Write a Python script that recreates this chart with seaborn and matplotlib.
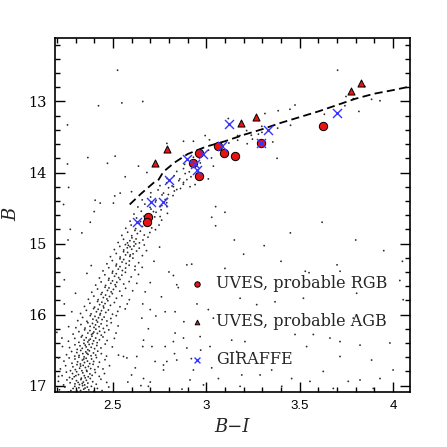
import matplotlib
matplotlib.use("Agg")
import matplotlib.pyplot as plt
from matplotlib.ticker import MultipleLocator, FormatStrFormatter
import seaborn as sns
import pandas as pd

# ---------------- data ----------------
# UVES probable RGB stars
rgb_bi = [3.625, 3.293, 3.063, 3.095, 3.156, 2.962, 2.928, 2.963, 2.689, 2.684]
rgb_b = [13.34, 13.59, 13.62, 13.72, 13.77, 13.72, 13.87, 14.05, 14.62, 14.70]

# UVES probable AGB stars
agb_bi = [3.826, 3.775, 3.265, 3.184, 2.790, 2.728]
agb_b = [12.74, 12.85, 13.22, 13.305, 13.667, 13.87]

# GIRAFFE stars
gir_bi = [3.698, 3.329, 3.122, 3.293, 3.083, 2.985, 2.896, 2.937, 2.949, 2.803, 2.705, 2.767, 2.628]
gir_b = [13.164, 13.408, 13.315, 13.59, 13.62, 13.737, 13.81, 13.878, 13.962, 14.10, 14.418, 14.418, 14.70]

# fiducial (dashed) line
fid_bi = [2.59, 2.65, 2.72, 2.745, 2.77, 2.83, 2.90, 3.00, 3.10, 3.20, 3.30, 3.40, 3.50, 3.60, 3.70, 3.80, 3.90, 4.00, 4.09]
fid_b = [14.45, 14.30, 14.14, 14.10, 13.99, 13.86, 13.74, 13.635, 13.56, 13.47, 13.39, 13.30, 13.22, 13.14, 13.05, 12.96, 12.89, 12.84, 12.79]

# cluster photometry (dense RGB sequence)
cluster_stars = [
    (2.214,17.06),(2.243,17.02),(2.262,17.09),(2.287,17.04),(2.296,17.01),(2.309,17.08),(2.318,17.03),(2.327,17.07),(2.338,17.00),(2.344,17.05),
    (2.356,17.09),(2.363,17.02),(2.371,17.06),(2.385,17.01),(2.398,17.08),(2.417,17.04),(2.442,17.07),(2.478,17.02),(2.275,17.07),(2.351,17.035),
    (2.208,16.94),(2.236,16.99),(2.254,16.92),(2.271,16.96),(2.283,16.905),(2.297,16.975),(2.305,16.93),(2.321,16.985),(2.329,16.915),(2.342,16.95),
    (2.349,16.99),(2.358,16.925),(2.366,16.965),(2.379,16.90),(2.392,16.945),(2.411,16.98),(2.436,16.91),(2.467,16.955),(2.314,16.955),(2.336,16.97),
    (2.228,16.86),(2.251,16.81),(2.268,16.885),(2.284,16.83),(2.293,16.875),(2.306,16.805),(2.316,16.845),(2.331,16.895),(2.339,16.82),(2.347,16.86),
    (2.361,16.80),(2.368,16.875),(2.377,16.835),(2.389,16.855),(2.406,16.815),(2.427,16.87),(2.455,16.83),(2.302,16.86),(2.352,16.89),
    (2.219,16.765),(2.247,16.72),(2.273,16.79),(2.286,16.735),(2.299,16.775),(2.308,16.705),(2.322,16.755),(2.334,16.79),(2.341,16.715),(2.353,16.745),
    (2.359,16.785),(2.369,16.73),(2.381,16.76),(2.394,16.70),(2.403,16.775),(2.421,16.735),(2.447,16.765),(2.482,16.72),(2.327,16.725),
    (2.238,16.655),(2.266,16.61),(2.281,16.685),(2.297,16.625),(2.311,16.665),(2.318,16.60),(2.326,16.695),(2.337,16.64),(2.348,16.675),(2.357,16.615),
    (2.364,16.655),(2.376,16.69),(2.386,16.625),(2.397,16.66),(2.412,16.605),(2.428,16.67),(2.458,16.635),(2.344,16.625),
    (2.252,16.565),(2.279,16.52),(2.296,16.585),(2.307,16.535),(2.319,16.575),(2.328,16.505),(2.339,16.55),(2.346,16.595),(2.355,16.525),(2.367,16.56),
    (2.374,16.51),(2.383,16.58),(2.396,16.54),(2.408,16.57),(2.419,16.515),(2.438,16.55),(2.466,16.585),(2.361,16.545),
    (2.268,16.465),(2.297,16.425),(2.309,16.49),(2.324,16.44),(2.336,16.475),(2.345,16.405),(2.357,16.455),(2.366,16.495),(2.373,16.42),(2.384,16.46),
    (2.391,16.41),(2.402,16.48),(2.414,16.435),(2.436,16.47),(2.459,16.415),(2.497,16.455),(2.352,16.43),
    (2.262,16.375),(2.296,16.335),(2.318,16.39),(2.331,16.315),(2.346,16.36),(2.357,16.325),(2.366,16.385),(2.379,16.345),(2.388,16.305),(2.397,16.37),
    (2.408,16.33),(2.416,16.395),(2.428,16.355),(2.447,16.315),(2.469,16.365),(2.508,16.335),(2.372,16.36),
    (2.287,16.275),(2.318,16.24),(2.336,16.295),(2.349,16.215),(2.366,16.26),(2.377,16.225),(2.386,16.28),(2.398,16.245),(2.409,16.205),(2.417,16.265),
    (2.429,16.235),(2.438,16.29),(2.456,16.25),(2.478,16.215),(2.517,16.26),(2.393,16.265),
    (2.302,16.185),(2.329,16.14),(2.351,16.19),(2.366,16.115),(2.378,16.165),(2.391,16.125),(2.399,16.18),(2.407,16.145),(2.418,16.105),(2.426,16.17),
    (2.437,16.13),(2.449,16.195),(2.468,16.155),(2.491,16.115),(2.528,16.16),
    (2.312,16.085),(2.338,16.04),(2.361,16.095),(2.379,16.015),(2.393,16.065),(2.404,16.025),(2.412,16.08),(2.423,16.045),(2.431,16.005),(2.442,16.07),
    (2.453,16.035),(2.468,16.09),(2.489,16.055),(2.518,16.015),
    (2.327,15.985),(2.358,15.94),(2.383,15.99),(2.397,15.915),(2.412,15.96),(2.421,15.925),(2.433,15.985),(2.439,15.945),(2.451,15.905),(2.462,15.97),
    (2.476,15.935),(2.498,15.995),(2.526,15.955),(2.566,15.92),
    (2.348,15.885),(2.377,15.84),(2.402,15.895),(2.418,15.815),(2.429,15.86),(2.441,15.825),(2.449,15.88),(2.458,15.845),(2.473,15.805),(2.487,15.87),
    (2.508,15.83),(2.538,15.89),(2.577,15.85),
    (2.369,15.785),(2.398,15.74),(2.421,15.79),(2.437,15.715),(2.449,15.76),(2.461,15.725),(2.468,15.78),(2.482,15.745),(2.497,15.705),(2.519,15.77),
    (2.548,15.735),(2.588,15.79),
    (2.387,15.685),(2.418,15.64),(2.442,15.69),(2.458,15.615),(2.471,15.66),(2.479,15.625),(2.491,15.68),(2.503,15.645),(2.516,15.605),(2.537,15.67),
    (2.568,15.63),(2.606,15.665),
    (2.408,15.585),(2.437,15.54),(2.461,15.59),(2.477,15.515),(2.489,15.56),(2.498,15.525),(2.512,15.58),(2.521,15.545),(2.538,15.505),(2.558,15.57),
    (2.587,15.535),(2.628,15.56),
    (2.428,15.485),(2.457,15.44),(2.479,15.49),(2.497,15.415),(2.509,15.46),(2.518,15.425),(2.531,15.48),(2.548,15.445),(2.567,15.405),(2.598,15.47),
    (2.637,15.435),
    (2.447,15.385),(2.478,15.34),(2.499,15.39),(2.517,15.315),(2.529,15.36),(2.538,15.325),(2.551,15.38),(2.568,15.345),(2.587,15.305),(2.618,15.37),
    (2.657,15.335),
    (2.468,15.285),(2.497,15.24),(2.519,15.29),(2.538,15.215),(2.549,15.26),(2.558,15.225),(2.571,15.28),(2.588,15.245),(2.607,15.205),(2.638,15.27),
    (2.487,15.185),(2.518,15.14),(2.539,15.19),(2.557,15.115),(2.568,15.16),(2.579,15.125),(2.591,15.18),(2.608,15.145),(2.627,15.105),(2.658,15.17),
    (2.508,15.085),(2.537,15.04),(2.558,15.09),(2.567,15.015),(2.577,15.06),(2.583,15.025),(2.592,15.045),(2.601,15.08),(2.613,15.035),(2.622,15.005),
    (2.641,15.065),(2.668,15.02),
    (2.528,14.985),(2.557,14.94),(2.578,14.99),(2.591,14.96),(2.602,14.92),(2.613,14.975),(2.624,14.935),(2.642,14.99),(2.661,14.95),(2.688,14.91),
    (2.548,14.885),(2.579,14.84),(2.601,14.89),(2.618,14.815),(2.631,14.86),(2.647,14.825),(2.668,14.88),(2.698,14.845),(2.728,14.805),
    (2.569,14.785),(2.598,14.74),(2.622,14.79),(2.641,14.715),(2.658,14.76),(2.681,14.725),(2.708,14.78),(2.747,14.74),
    (2.592,14.685),(2.627,14.64),(2.648,14.69),(2.667,14.615),(2.703,14.66),(2.724,14.625),(2.761,14.67),
    (2.613,14.585),(2.652,14.545),(2.679,14.595),(2.704,14.515),(2.731,14.56),(2.758,14.525),(2.792,14.575),
    (2.634,14.485),(2.671,14.445),(2.699,14.49),(2.728,14.415),(2.762,14.465),(2.788,14.425),
    (2.657,14.385),(2.702,14.345),(2.731,14.39),(2.763,14.315),(2.791,14.365),(2.822,14.325),
    (2.703,14.285),(2.742,14.245),(2.771,14.29),(2.798,14.215),(2.829,14.26),(2.862,14.225),
    (2.752,14.185),(2.788,14.145),(2.817,14.19),(2.853,14.115),(2.877,14.165),
    (2.791,14.085),(2.828,14.045),(2.858,14.09),(2.887,14.015),(2.918,14.06),
    (2.842,13.985),(2.878,13.945),(2.909,13.99),(2.938,13.925),
    (2.884,13.885),(2.921,13.845),(2.968,13.865),
    (2.931,13.785),(2.988,13.745),(3.028,13.795),
    (3.012,13.685),(3.058,13.645),(3.108,13.695),
    (3.121,13.585),(3.168,13.545),(3.219,13.595),
    (3.241,13.475),(3.298,13.435),
    (3.382,13.375),(3.451,13.335),
]

# field / scattered stars
field_stars = [
    (2.525,12.56),(2.423,13.06),(2.548,13.02),(2.660,13.00),(2.257,13.33),(3.703,12.56),
    (2.994,13.48),(3.385,13.13),(3.448,13.11),(3.475,13.05),(3.314,13.17),(3.279,13.46),
    (3.742,13.06),(3.787,12.96),(3.885,12.97),(3.930,12.99),(3.817,13.14),(3.632,13.18),
    (3.118,13.24),(3.216,13.41),(3.180,13.48),(3.849,12.79),(3.748,12.93),(3.247,13.53),
    (3.356,13.57),(3.379,13.80),(3.038,13.91),(3.011,14.09),(3.050,14.48),(3.100,14.56),
    (3.029,14.63),(3.168,13.48),(3.297,13.35),(2.366,13.79),(2.512,13.77),(2.471,13.87),
    (2.257,13.88),(2.263,14.21),(2.566,14.06),(2.637,13.91),(2.682,14.00),(2.236,14.45),
    (2.405,14.39),(2.400,14.55),(2.432,14.43),(2.379,14.70),(2.503,14.43),(2.539,14.29),
    (2.510,14.33),(2.600,14.27),(2.789,13.59),(2.878,13.56),(2.931,13.56),(3.017,13.54),
    (2.896,14.10),(2.913,14.20),(2.940,14.17),(2.878,14.14),(2.824,14.20),(2.842,14.24),
    (2.797,14.31),(2.780,14.38),(2.753,14.48),(2.789,14.48),(2.717,14.55),(2.700,14.71),
    (2.753,14.62),(2.272,14.80),(2.334,14.85),(2.240,15.51),(2.384,15.31),(2.361,15.42),
    (2.280,15.96),(2.263,16.17),(2.227,16.33),(2.209,16.61),(2.209,16.87),(2.21,15.20),
    (2.26,14.95),(2.30,15.70),(2.24,15.85),(2.20,16.25),(2.23,16.45),
    (2.673,15.68),(2.700,15.93),(2.655,16.05),(2.664,16.36),(2.709,16.45),(2.660,16.45),
    (2.530,16.57),(2.557,16.59),(2.575,16.61),(2.628,16.59),(2.726,16.66),(2.771,16.71),
    (2.600,16.85),(2.664,16.90),(2.690,17.01),(2.650,17.00),(2.593,15.16),(2.619,15.32),
    (2.68,15.10),(2.72,15.25),(2.75,15.05),(2.80,15.40),(2.70,15.55),(2.76,15.75),
    (2.85,15.62),(2.66,15.85),(2.73,16.02),(2.88,16.10),(2.95,15.85),(2.69,16.20),
    (2.78,16.45),(2.62,16.75),(2.83,16.55),(2.92,16.62),(2.70,16.95),(2.87,17.05),
    (2.97,16.50),(2.58,16.95),
    (2.824,15.45),(2.896,15.30),(2.922,15.29),(2.842,15.58),(2.780,15.96),(2.833,15.96),
    (3.011,15.93),(3.038,16.05),(2.833,16.26),(2.878,16.33),(2.824,16.38),(2.896,16.47),
    (2.789,16.66),(2.842,16.64),(2.931,16.78),(3.029,16.75),(3.065,16.90),(3.190,16.85),
    (3.136,16.36),(3.207,16.38),(3.270,15.86),(3.368,15.82),(3.181,15.77),(3.520,15.77),
    (3.805,15.70),(3.716,15.39),(3.530,15.39),(3.475,16.28),(3.573,16.28),(3.537,16.45),
    (3.662,16.33),(3.716,16.38),(3.716,16.59),(3.823,16.43),(3.885,16.64),(3.983,16.40),
    (4.000,16.78),(3.930,16.90),(3.823,16.92),(3.760,16.94),(3.626,16.80),(3.555,16.94),
    (3.457,16.90),(3.350,16.78),(3.288,16.85),(3.404,17.01),(3.680,17.04),(3.894,17.04),
    (4.036,15.52),(4.054,15.79),(3.787,16.05),(3.163,16.52),(3.252,16.54),(3.020,16.45),
    (2.967,16.31),(2.771,16.78),(2.913,16.92),(2.985,16.99),(3.181,17.01),
    (3.05,14.75),(3.15,14.95),(3.31,15.03),(3.45,14.85),(3.62,14.70),(3.80,14.95),
    (3.95,15.10),(3.40,15.25),(3.70,15.30),(3.20,15.15),(3.55,15.41),(3.88,15.55),
    (4.05,15.25),(3.10,15.35),
]

legend_labels = ["UVES, probable RGB", "UVES, probable AGB", "GIRAFFE"]

# ---------------- figure ----------------
sns.set_style("ticks")
plt.rcParams["font.family"] = ["Liberation Sans", "DejaVu Sans"]

fig = plt.figure(figsize=(4.47, 4.47), dpi=100)
ax = fig.add_axes([0.123, 0.123, 0.794, 0.793])

stars = pd.DataFrame(cluster_stars + field_stars, columns=["BI", "B"])
sns.scatterplot(data=stars, x="BI", y="B", ax=ax, s=1.7, color="#2a2a2a",
                edgecolor="none", linewidth=0, legend=False, zorder=1)

fid = pd.DataFrame({"BI": fid_bi, "B": fid_b})
sns.lineplot(data=fid, x="BI", y="B", ax=ax, sort=False, color="black",
             linewidth=1.3, linestyle=(0, (4.5, 2.4)), zorder=2)

sns.scatterplot(x=rgb_bi, y=rgb_b, ax=ax, marker="o", s=36, color="#ee1111",
                edgecolor="black", linewidth=0.7, zorder=3, label=legend_labels[0])
sns.scatterplot(x=agb_bi, y=agb_b, ax=ax, marker="^", s=26, color="#ee1111",
                edgecolor="black", linewidth=0.7, zorder=3, label=legend_labels[1])
sns.scatterplot(x=gir_bi, y=gir_b, ax=ax, marker="x", s=42, color="#3636ff",
                linewidth=1.0, zorder=4, label=legend_labels[2])

ax.set_xlim(2.19, 4.09)
ax.set_ylim(17.09, 12.1)

ax.xaxis.set_major_locator(MultipleLocator(0.5))
ax.xaxis.set_minor_locator(MultipleLocator(0.1))
ax.yaxis.set_major_locator(MultipleLocator(1))
ax.yaxis.set_minor_locator(MultipleLocator(0.2))
ax.xaxis.set_major_formatter(FormatStrFormatter("%g"))
ax.yaxis.set_major_formatter(FormatStrFormatter("%g"))

ax.tick_params(which="both", direction="in", top=True, right=True,
               width=1.0, colors="black")
ax.tick_params(which="major", length=7, pad=6)
ax.tick_params(which="minor", length=3.5)
ax.tick_params(axis="x", labelsize=9.5)
ax.tick_params(axis="y", labelsize=10.5)
for lab in ax.get_yticklabels():
    lab.set_fontfamily("DejaVu Serif")
for sp in ax.spines.values():
    sp.set_linewidth(1.2)
    sp.set_color("black")

ax.set_xlabel("B\u2212I", fontfamily="DejaVu Serif", fontstyle="italic",
              fontsize=13, labelpad=4)
ax.set_ylabel("B", fontfamily="DejaVu Serif", fontstyle="italic",
              fontsize=13, labelpad=6)

leg = ax.legend(loc="center left", bbox_to_anchor=(0.379, 0.199), frameon=False,
                prop={"family": "DejaVu Serif", "size": 11.5}, markerscale=0.65,
                handlelength=1.0, handletextpad=0.64, labelspacing=1.32,
                borderpad=0, borderaxespad=0)

fig.savefig("out.png", dpi=100)
